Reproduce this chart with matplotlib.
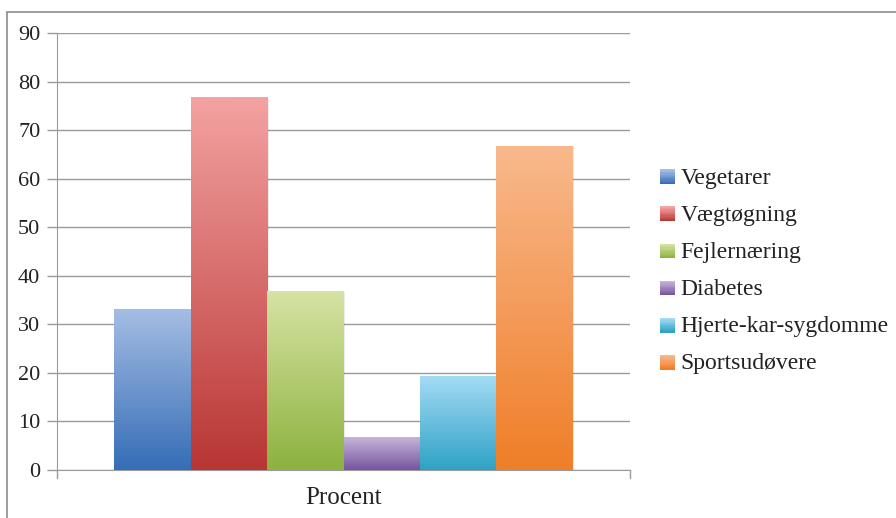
import matplotlib.pyplot as plt
import numpy as np
from matplotlib.colors import LinearSegmentedColormap
from matplotlib.legend_handler import HandlerBase
from matplotlib.patches import Rectangle

plt.rcParams["font.family"] = ["Liberation Serif", "DejaVu Serif"]

categories = ["Vegetarer", "Vægtøgning", "Fejlernæring", "Diabetes",
              "Hjerte-kar-sygdomme", "Sportsudøvere"]
values = [33.0, 76.7, 36.7, 6.7, 19.2, 66.7]
group_label = "Procent"
yticks = [0, 10, 20, 30, 40, 50, 60, 70, 80, 90]

# (top colour, bottom colour) per series
gradients = [
    ("#a5bde5", "#356db6"),
    ("#f4a2a2", "#b83633"),
    ("#d6e3a3", "#8db23f"),
    ("#c6b4d9", "#75559d"),
    ("#a4dbf6", "#2ea2c4"),
    ("#f9b98d", "#ef7e28"),
]


class GradientHandler(HandlerBase):
    def __init__(self, top, bottom):
        super().__init__()
        self.cmap = LinearSegmentedColormap.from_list("g", [bottom, top])

    def create_artists(self, legend, orig, xd, yd, w, h, fs, trans):
        side = min(w, h)
        x0 = xd + (w - side) / 2
        y0 = yd + (h - side) / 2
        n = 12
        arts = []
        for i in range(n):
            r = Rectangle((x0, y0 + side * i / n), side, side / n + 0.2,
                          facecolor=self.cmap(i / (n - 1)), edgecolor="none",
                          transform=trans)
            arts.append(r)
        return arts


fig = plt.figure(figsize=(8.96, 5.18), dpi=100)
fig.patches.append(Rectangle((7 / 896, -0.05), 1.0, 1.05 - 12 / 518,
                             transform=fig.transFigure, fill=False,
                             edgecolor="#8c8c8c", linewidth=1.2))

ax = fig.add_axes([57 / 896, 48 / 518, 573 / 896, 437 / 518])

n = len(categories)
width = 0.8 / n
x = np.arange(n) * width - 0.4 + width / 2
bars = ax.bar(x, values, width=width, color="none", edgecolor="none", zorder=3)

for bar, (top, bottom) in zip(bars, gradients):
    cmap = LinearSegmentedColormap.from_list("g", [bottom, top])
    x0, h = bar.get_x(), bar.get_height()
    # soft shadow
    ax.add_patch(Rectangle((x0 + 0.003, -0.3), bar.get_width(), h + 0.3,
                           facecolor="#000000", alpha=0.08, edgecolor="none",
                           zorder=2))
    ax.imshow(np.linspace(1, 0, 256).reshape(-1, 1), cmap=cmap, aspect="auto",
              extent=(x0, x0 + bar.get_width(), 0, h), zorder=3)

ax.set_xlim(-0.5, 0.5)
ax.set_ylim(0, 90)
ax.set_yticks(yticks)
ax.set_xticks([0])
ax.set_xticklabels([group_label], fontsize=18)
ax.tick_params(axis="x", length=0, pad=12, labelcolor="#222222")
ax.tick_params(axis="y", length=7, width=1, color="#9a9a9a", labelsize=16,
               pad=5, labelcolor="#222222")
ax.grid(axis="y", color="#9a9a9a", linewidth=1, zorder=0)
ax.set_axisbelow(True)
for s in ["top", "right"]:
    ax.spines[s].set_visible(False)
ax.spines["left"].set_color("#9a9a9a")
ax.spines["bottom"].set_color("#9a9a9a")
ax.spines["left"].set_bounds(0, 90)
for xe in (-0.5, 0.5):
    ax.plot([xe, xe], [0, -1.6], color="#9a9a9a", linewidth=1, clip_on=False)

handles = [Rectangle((0, 0), 1, 1) for _ in categories]
handler_map = {h: GradientHandler(t, b) for h, (t, b) in zip(handles, gradients)}
fig.legend(handles, categories, handler_map=handler_map, loc="upper left",
           bbox_to_anchor=(660 / 896, 1 - 168 / 518), frameon=False,
           fontsize=17, handlelength=0.62, handleheight=0.62, handletextpad=0.25,
           labelspacing=0.68, borderaxespad=0, borderpad=0, labelcolor="#222222")

fig.savefig("out.png", dpi=100)
